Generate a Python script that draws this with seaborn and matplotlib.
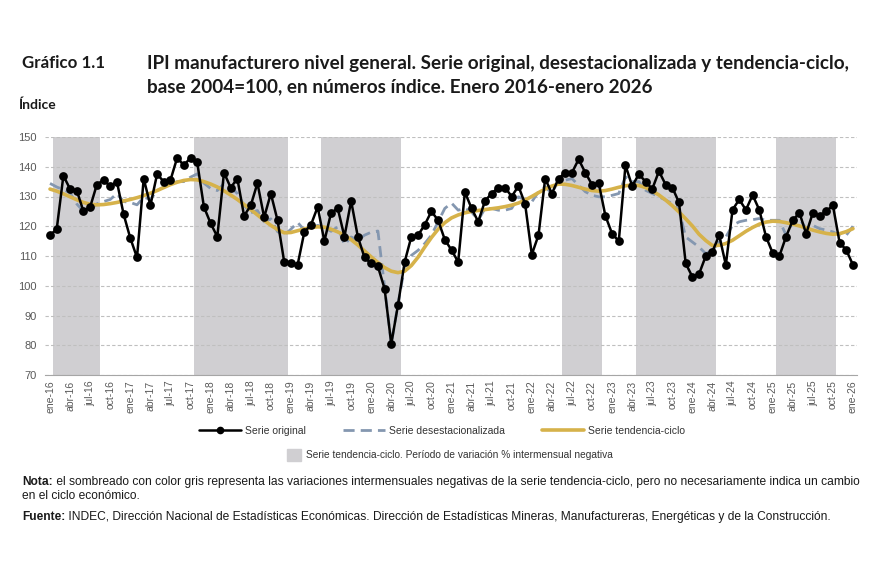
import numpy as np
import pandas as pd
import matplotlib
matplotlib.use("Agg")
import matplotlib.pyplot as plt
from matplotlib.lines import Line2D
from matplotlib.patches import Patch
import seaborn as sns

# meses ene-16 .. ene-26
meses = ["ene", "feb", "mar", "abr", "may", "jun", "jul", "ago", "sep", "oct", "nov", "dic"]
periodos = [f"{m}-{a}" for a in range(16, 26) for m in meses] + ["ene-26"]

serie_original = [
    117, 119, 137, 132.5, 132, 125, 126.5, 134, 135.5, 133.5, 135, 124,
    116, 109.5, 136, 127, 137.5, 135, 135.5, 143, 140.5, 143, 141.5, 126.5,
    121, 116.5, 138, 133, 136, 123.5, 127, 134.5, 123, 131, 122, 108,
    107.5, 107, 118, 120.5, 126.5, 115, 124.5, 126, 116.5, 128.5, 116.5, 109.5,
    107.5, 106.5, 99, 80.5, 93.5, 108, 116.5, 117, 120.5, 125, 122, 115.5,
    112, 108, 131.5, 126, 121.5, 128.5, 131, 133, 133, 130, 133.5, 127.5,
    110.5, 117, 136, 131, 136, 138, 138, 142.5, 138, 134, 134.5, 123.5,
    117.5, 115, 140.5, 133.5, 137.5, 135, 132.5, 138.5, 134, 133, 128, 107.5,
    103, 104, 110, 111.5, 117, 107, 125.5, 129, 125.5, 130.5, 125.5, 116.5,
    111, 110, 116.5, 122, 124.5, 117.5, 124.5, 123.5, 125, 127, 114.5, 112,
    107,
]

serie_desest = [
    134.4, 133.2, 132.3, 131.2, 127.5, 125.0, 125.5, 127.5, 128.3, 129.0, 131.0, 128.3,
    128.0, 127.2, 129.8, 129.0, 132.0, 133.2, 134.2, 135.0, 135.0, 136.5, 137.6, 134.5,
    132.7, 132.0, 134.3, 133.2, 131.0, 127.0, 124.5, 125.3, 121.5, 122.5, 118.2, 117.0,
    119.0, 121.3, 118.7, 119.3, 120.3, 119.5, 118.3, 119.8, 113.8, 116.4, 115.3, 117.0,
    118.0, 118.4, 99.6, 80.4, 93.9, 106.3, 110.2, 111.9, 114.2, 117.0, 121.5, 126.0,
    127.8, 125.4, 126.0, 124.8, 122.0, 126.0, 126.0, 125.4, 125.4, 126.0, 129.9, 128.8,
    128.2, 131.6, 133.3, 131.0, 135.5, 135.5, 136.0, 133.8, 131.6, 130.4, 129.9, 129.9,
    130.4, 131.0, 136.6, 135.0, 135.0, 132.1, 131.0, 129.9, 128.8, 127.6, 125.4, 116.4,
    114.7, 113.0, 110.8, 111.9, 114.7, 116.4, 120.3, 121.5, 122.0, 122.2, 122.6, 122.0,
    122.0, 122.0, 117.0, 121.5, 122.6, 119.2, 120.3, 119.2, 118.7, 118.1, 117.0, 117.0,
    120.0,
]

serie_tendencia = [
    132.5, 131.8, 130.9, 129.9, 128.9, 128.0, 127.4, 127.2, 127.3, 127.6, 128.0, 128.5,
    129.0, 129.6, 130.3, 131.1, 132.0, 133.0, 134.0, 134.8, 135.4, 135.7, 135.6, 135.0,
    134.2, 133.2, 131.9, 130.5, 129.0, 127.3, 125.6, 123.8, 122.0, 120.3, 118.9, 117.8,
    117.9, 118.5, 119.1, 119.6, 119.8, 119.7, 119.0, 118.1, 117.0, 115.5, 113.7, 111.7,
    109.7, 107.8, 106.1, 104.9, 104.4, 104.9, 106.8, 109.6, 113.0, 116.2, 119.0, 121.2,
    122.8, 123.8, 124.5, 125.0, 125.3, 125.6, 125.9, 126.2, 126.6, 127.1, 127.8, 128.8,
    130.0, 131.3, 132.5, 133.5, 134.2, 134.1, 133.7, 133.1, 132.5, 132.0, 131.8, 132.0,
    132.5, 133.1, 133.6, 133.9, 133.7, 133.0, 131.9, 130.5, 128.8, 126.9, 124.8, 122.5,
    120.1, 117.3, 115.2, 113.5, 113.6, 114.2, 115.3, 116.8, 118.3, 119.6, 120.7, 121.4,
    121.7, 121.6, 121.2, 120.7, 120.1, 119.4, 118.7, 118.1, 117.6, 117.3, 117.5, 118.2,
    119.2,
]

# periodos de variacion intermensual negativa de la tendencia-ciclo
sombreado = [("feb-16", "ago-16"), ("nov-17", "dic-18"), ("jun-19", "may-20"),
             ("jun-22", "nov-22"), ("may-23", "abr-24"), ("feb-25", "oct-25")]

df = pd.DataFrame({
    "mes": np.arange(len(periodos)),
    "original": serie_original,
    "desest": serie_desest,
    "tendencia": serie_tendencia,
})

sns.set_style("white")
plt.rcParams["font.family"] = ["Liberation Sans", "DejaVu Sans"]

c_orig = "#000000"
c_desest = "#8497b0"
c_tend = "#d6b24a"
c_sombra = "#d0cfd2"
c_texto = "#595959"

fig = plt.figure(figsize=(8.7, 5.8), dpi=100)
ax = fig.add_axes([45 / 870, 1 - 375 / 580, (857 - 45) / 870, (375 - 137) / 580])

for ini, fin in sombreado:
    ax.axvspan(periodos.index(ini) - 0.5, periodos.index(fin) + 0.5,
               color=c_sombra, lw=0, zorder=0)

sns.lineplot(data=df, x="mes", y="desest", ax=ax, color=c_desest, lw=2,
             dashes=False, zorder=2).lines[-1].set_dashes([4, 2.2])
sns.lineplot(data=df, x="mes", y="tendencia", ax=ax, color=c_tend, lw=2.6, zorder=3)
sns.lineplot(data=df, x="mes", y="original", ax=ax, color=c_orig, lw=1.8,
             marker="o", markersize=6.3, markeredgewidth=0, zorder=4)

ax.set_ylim(70, 150)
ax.set_xlim(-0.75, 120.6)
ax.set_yticks(range(70, 151, 10))
ax.set_xticks(range(0, len(periodos), 3))
ax.set_xticklabels(periodos[::3], rotation=90)
ax.set_xticks(range(len(periodos)), minor=True)
ax.tick_params(axis="x", which="both", direction="in", length=3, color="#a6a6a6",
               width=0.8, labelsize=7.5, labelcolor=c_texto, pad=4)
ax.tick_params(axis="y", length=0, labelsize=8, labelcolor=c_texto, pad=6)
ax.set_xlabel("")
ax.set_ylabel("")
ax.grid(axis="y", color="#bfbfbf", ls=(0, (3, 2)), lw=0.8)
ax.set_axisbelow(True)
for s in ["top", "right", "left"]:
    ax.spines[s].set_visible(False)
ax.spines["bottom"].set_color("#a6a6a6")
ax.spines["bottom"].set_linewidth(0.8)
ax.spines["bottom"].set_zorder(5)

# titulo
tfont = dict(family=["Lato", "DejaVu Sans"], weight="bold", color="#1a1a1a")
fig.text(22 / 870, 1 - 63 / 580, "Gráfico 1.1", va="center", fontsize=12.2, **tfont)
fig.text(147 / 870, 1 - 63 / 580,
         "IPI manufacturero nivel general. Serie original, desestacionalizada y tendencia-ciclo,",
         va="center", fontsize=13.6, **tfont)
fig.text(147 / 870, 1 - 87 / 580,
         "base 2004=100, en números índice. Enero 2016-enero 2026", va="center",
         fontsize=13.6, **tfont)
fig.text(18 / 870, 1 - 105 / 580, "Índice", va="center", family=["Lato", "DejaVu Sans"],
         weight="bold", fontsize=10, color="#1a1a1a")

# leyenda
h1 = [Line2D([], [], color=c_orig, lw=1.8, marker="o", markersize=4.5),
      Line2D([], [], color=c_desest, lw=2, dashes=[4, 2.2]),
      Line2D([], [], color=c_tend, lw=2.6)]
fig.legend(h1, ["Serie original", "Serie desestacionalizada", "Serie tendencia-ciclo"],
           loc="center", bbox_to_anchor=(442 / 870, 1 - 431 / 580), ncol=3, frameon=False,
           fontsize=7.5, handlelength=4.0, handletextpad=0.4, columnspacing=3.6,
           labelcolor="#333333")
fig.legend([Patch(color=c_sombra)],
           ["Serie tendencia-ciclo. Período de variación % intermensual negativa"],
           loc="center", bbox_to_anchor=(450 / 870, 1 - 455 / 580), frameon=False,
           fontsize=7.3, handlelength=1.4, handleheight=1.4, handletextpad=0.5,
           labelcolor="#333333")

# notas
ov = fig.add_axes([0, 0, 1, 1])
ov.axis("off")
nfont = dict(family=["Liberation Sans", "DejaVu Sans"], fontsize=8.65, color="#1a1a1a")
n1 = fig.text(22 / 870, 1 - 482 / 580, "Nota:", va="center", weight="bold", **nfont)
ov.annotate(" el sombreado con color gris representa las variaciones intermensuales negativas "
            "de la serie tendencia-ciclo, pero no necesariamente indica un cambio",
            xy=(1, 0), xycoords=n1, va="bottom", **nfont)
fig.text(22 / 870, 1 - 496 / 580, "en el ciclo económico.", va="center", **nfont)
f1 = fig.text(22 / 870, 1 - 517 / 580, "Fuente:", va="center", weight="bold", **nfont)
ov.annotate(" INDEC, Dirección Nacional de Estadísticas Económicas. Dirección de Estadísticas "
            "Mineras, Manufactureras, Energéticas y de la Construcción.",
            xy=(1, 0), xycoords=f1, va="bottom", **nfont)

fig.savefig("out.png", dpi=100, facecolor="white")
